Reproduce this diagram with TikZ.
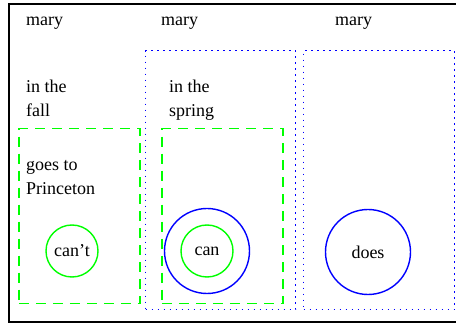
\documentclass[tikz,border=0pt]{standalone}
\usepackage{fontspec}
\setmainfont{Liberation Serif}
\usetikzlibrary{positioning}

\begin{document}
\begin{tikzpicture}[
    x=1pt, y=-1pt,
    every node/.style={font=\fontsize{18}{24}\selectfont, inner sep=0pt},
    lbl/.style    ={anchor=base west, align=left},
    ctxbox/.style ={rectangle, draw=green, dash pattern=on 10pt off 7pt, line width=1.5pt,
                    anchor=north west, minimum width=121pt, minimum height=175pt},
    modbox/.style ={rectangle, draw=blue, dash pattern=on 1.4pt off 4.6pt, line width=1.4pt,
                    anchor=north west, minimum width=150pt, minimum height=259pt},
    inner/.style  ={circle, draw=green, line width=1.4pt, minimum size=52pt},
    outer/.style  ={circle, draw=blue, line width=1.4pt, minimum size=85pt},
    frame/.style  ={draw=black, line width=2.4pt},
]
\useasboundingbox (0,0) rectangle (456,323);

% ── Outer frame (right edge runs off the page) ────────────────
\draw[frame] (9,4) rectangle (470,322);

% ── Dotted modal boxes ───────────────────────────────────────
\node[modbox] (springmod) at (145,50)  {};
\node[modbox, minimum width=151pt] (doesmod) at (303,50) {};

% ── Dashed context boxes ─────────────────────────────────────
\node[ctxbox] (fallctx)   at (18,128)  {};
\node[ctxbox] (springctx) at (161,128) {};

% ── Labels ───────────────────────────────────────────────────
\node[lbl] (mary1) at (26,26)  {mary};
\node[lbl] (mary2) at (161,26) {mary};
\node[lbl] (mary3) at (335,26) {mary};
\node[lbl] (fall)   at (26,117)  {in the\\fall};
\node[lbl] (spring) at (169,117) {in the\\spring};
\node[lbl] (goes)   at (26,195)  {goes to\\Princeton};

% ── Circles ──────────────────────────────────────────────────
\node[inner] (cant) at (72,251)  {can't};
\node[outer] (canout) at (207,251) {};
\node[inner] (can)  at (207,251) {can};
\node[outer] (does) at (368,252) {does};

\end{tikzpicture}
\end{document}
